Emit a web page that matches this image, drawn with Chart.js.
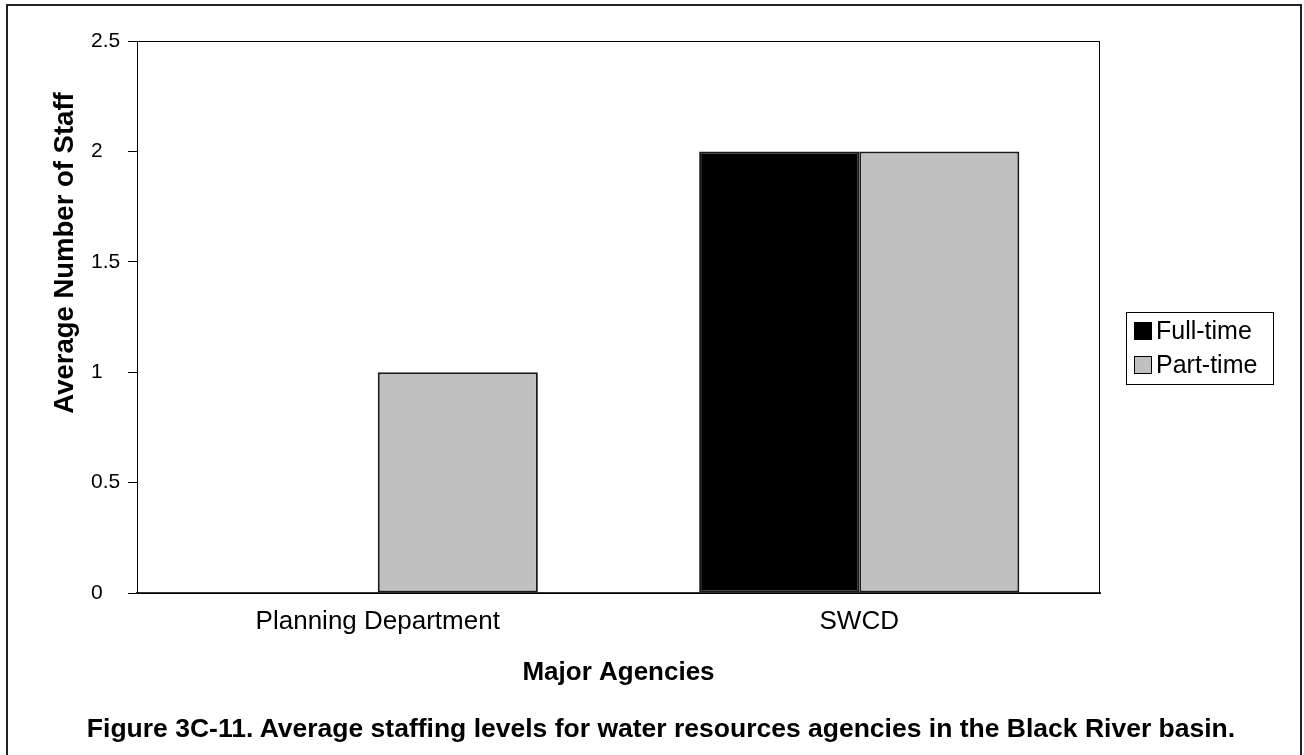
<!DOCTYPE html>
<html lang="en">
<head>
    <meta charset="UTF-8">
    <title>Average staffing levels</title>
    <script src="https://cdn.jsdelivr.net/npm/chart.js"></script>
    <style>
        body { margin: 0; background: #fff; }
        #wrap { position: relative; width: 1304px; height: 755px; overflow: hidden; }
        #frame { position: absolute; left: 6px; top: 4px; width: 1296px; height: 770px; border: 2px solid #222; box-sizing: border-box; }
        #chart { position: absolute; left: 0; top: 0; }
        #caption { position: absolute; left: 18px; width: 1286px; top: 713px; text-align: center;
                   font: bold 26.5px "Liberation Sans", Arial, sans-serif; line-height: 30px; color: #000; }
    </style>
</head>
<body>
<div id="wrap">
    <div id="frame"></div>
    <canvas id="chart" width="1304" height="755"></canvas>
    <div id="caption">Figure 3C-11. Average staffing levels for water resources agencies in the Black River basin.</div>
</div>

<script>
    // chart values
    const categories = ['Planning Department', 'SWCD'];
    const fullTime = [0, 2];
    const partTime = [1, 2];
    const seriesNames = ['Full-time', 'Part-time'];
    const yMin = 0, yMax = 2.5, yStep = 0.5;

    const FONT = '"Liberation Sans", Arial, sans-serif';

    // plot area frame like the Excel original
    const plotFrame = {
        id: 'plotFrame',
        afterDatasetsDraw(chart) {
            const { ctx, chartArea: a } = chart;
            ctx.save();
            ctx.strokeStyle = '#000';
            ctx.lineWidth = 1;
            ctx.strokeRect(a.left + 0.5, a.top + 0.5, a.right - a.left - 1, a.bottom - a.top);
            ctx.restore();
        }
    };

    // value axis title sits above the middle of the plot in the original
    const yTitle = {
        id: 'yTitle',
        afterDraw(chart) {
            const ctx = chart.ctx;
            ctx.save();
            ctx.translate(65, 253);
            ctx.rotate(-Math.PI / 2);
            ctx.font = 'bold 27.5px ' + FONT;
            ctx.fillStyle = '#000';
            ctx.textAlign = 'center';
            ctx.textBaseline = 'middle';
            ctx.fillText(chart.options.scales.y.title.text, 0, 0);
            ctx.restore();
        }
    };

    // boxed legend to the right of the plot
    const boxLegend = {
        id: 'boxLegend',
        afterDraw(chart) {
            const ctx = chart.ctx;
            const x = 1126, y = 312, w = 147, h = 72;
            ctx.save();
            ctx.strokeStyle = '#000';
            ctx.lineWidth = 1;
            ctx.strokeRect(x + 0.5, y + 0.5, w, h);
            ctx.font = '25px ' + FONT;
            ctx.textBaseline = 'middle';
            chart.data.datasets.forEach((ds, i) => {
                const cy = y + 19 + i * 34;
                ctx.fillStyle = ds.backgroundColor;
                ctx.fillRect(x + 8, cy - 9, 18, 18);
                ctx.strokeRect(x + 8.5, cy - 8.5, 17, 17);
                ctx.fillStyle = '#000';
                ctx.fillText(ds.label, x + 30, cy + 1);
            });
            ctx.restore();
        }
    };

    const ctx = document.getElementById('chart').getContext('2d');
    new Chart(ctx, {
        type: 'bar',
        data: {
            labels: categories,
            datasets: [{
                label: seriesNames[0],
                data: fullTime,
                backgroundColor: '#000000',
                borderColor: '#1a1a1a',
                borderWidth: 2,
                borderSkipped: false
            }, {
                label: seriesNames[1],
                data: partTime,
                backgroundColor: '#c0c0c0',
                borderColor: '#1a1a1a',
                borderWidth: 2,
                borderSkipped: false
            }]
        },
        options: {
            responsive: false,
            animation: false,
            layout: { padding: { left: 91, top: 41, right: 204, bottom: 0 } },
            datasets: { bar: { categoryPercentage: 0.665, barPercentage: 1.0 } },
            plugins: {
                legend: { display: false },
                tooltip: { enabled: false }
            },
            scales: {
                x: {
                    grid: { display: false, drawTicks: false },
                    border: { display: true, color: '#333', width: 2 },
                    ticks: { color: '#000', font: { family: FONT, size: 26 }, padding: 13, maxRotation: 0 },
                    title: {
                        display: true, text: 'Major Agencies', color: '#000',
                        font: { family: FONT, size: 26, weight: 'bold' },
                        padding: { top: 0, bottom: 67 }
                    },
                    afterFit: s => { s.height = 162; }
                },
                y: {
                    min: yMin,
                    max: yMax,
                    ticks: {
                        stepSize: yStep, color: '#000', font: { family: FONT, size: 21 },
                        padding: 5, crossAlign: 'far',
                        callback: v => String(v)
                    },
                    grid: { drawOnChartArea: false, drawTicks: true, tickLength: 9, color: '#000' },
                    border: { display: true, color: '#000', width: 1 },
                    title: { display: false, text: 'Average Number of Staff' },
                    afterFit: s => { s.width = 46; }
                }
            }
        },
        plugins: [plotFrame, yTitle, boxLegend]
    });
</script>
</body>
</html>
